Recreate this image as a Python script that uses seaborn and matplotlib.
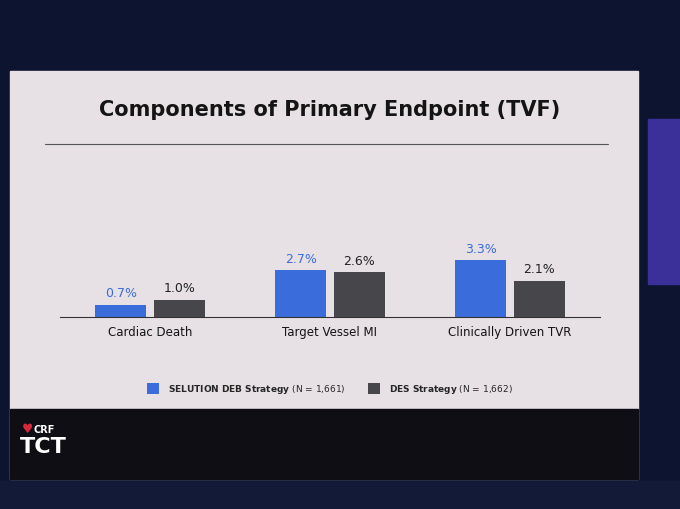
import pandas as pd
import matplotlib.pyplot as plt
import matplotlib.patches as mpatches
import seaborn as sns

categories = ['Cardiac Death', 'Target Vessel MI', 'Clinically Driven TVR']
deb_values = [0.7, 2.7, 3.3]
des_values = [1.0, 2.6, 2.1]
groups = [r'$\bf{SELUTION\ DEB\ Strategy}$ (N = 1,661)', r'$\bf{DES\ Strategy}$ (N = 1,662)']

df = pd.DataFrame({
    'Endpoint': categories * 2,
    'Rate': deb_values + des_values,
    'Group': [groups[0]] * 3 + [groups[1]] * 3,
})

blue = '#3a6ddb'
grey = '#47464b'
slide = '#e7e0e4'

sns.set_style('white')
plt.rcParams['font.family'] = ['DejaVu Sans']

fig = plt.figure(figsize=(6.8, 5.1), dpi=100, facecolor='#0c1430')


def add_rect(x0, y0, x1, y1, color):
    # pixel box (top-left origin) -> figure fraction
    fig.patches.append(mpatches.Rectangle((x0/680, 1-y1/510), (x1-x0)/680, (y1-y0)/510,
                                          transform=fig.transFigure, color=color, zorder=-10))


# slide, footer band and side screen
add_rect(10, 72, 638, 480, slide)
add_rect(10, 410, 638, 480, '#0e0e14')
add_rect(648, 120, 680, 285, '#3b2f9a')
add_rect(0, 482, 680, 510, '#121a38')

fig.text(0.485, 1-110/510, 'Components of Primary Endpoint (TVF)', ha='center', va='center',
         fontsize=15, fontweight='bold', color='#141414')
fig.add_artist(plt.Line2D([45/680, 608/680], [1-145/510, 1-145/510],
                          transform=fig.transFigure, color='#555555', lw=0.8))

ax = fig.add_axes([60/680, 1-318/510, 540/680, 138/510])
ax.set_facecolor('none')
sns.barplot(data=df, x='Endpoint', y='Rate', hue='Group', palette=[blue, grey],
            width=0.65, gap=0.12, saturation=1, linewidth=0, ax=ax, legend=True)
ax.set_ylim(0, 8)
ax.set_xlim(-0.5, 2.5)
for c, col in zip(ax.containers, [blue, '#222222']):
    ax.bar_label(c, labels=[f'{v:.1f}%' for v in c.datavalues], padding=4,
                 fontsize=9, color=col)
sns.despine(ax=ax, left=True)
ax.spines['bottom'].set_color('#333333')
ax.spines['bottom'].set_linewidth(0.8)
ax.set_yticks([])
ax.set_xlabel('')
ax.set_ylabel('')
ax.tick_params(axis='x', length=0, labelsize=8.5, colors='#141414', pad=6)

ax.legend(loc='center', bbox_to_anchor=(0.5, 1-(390-180)/138), ncol=2,
          frameon=False, fontsize=6.5, handlelength=1.3, handleheight=1.5,
          columnspacing=2.5, handletextpad=1.0)

# footer logo
fig.text(22/680, 1-430/510, '\u2665', color='#d8283a', fontsize=9, va='center')
fig.text(34/680, 1-430/510, 'CRF', color='white', fontsize=7, fontweight='bold', va='center')
fig.text(20/680, 1-447/510, 'TCT', color='white', fontsize=16, fontweight='bold', va='center')

fig.savefig('out.png', dpi=100, facecolor=fig.get_facecolor())
